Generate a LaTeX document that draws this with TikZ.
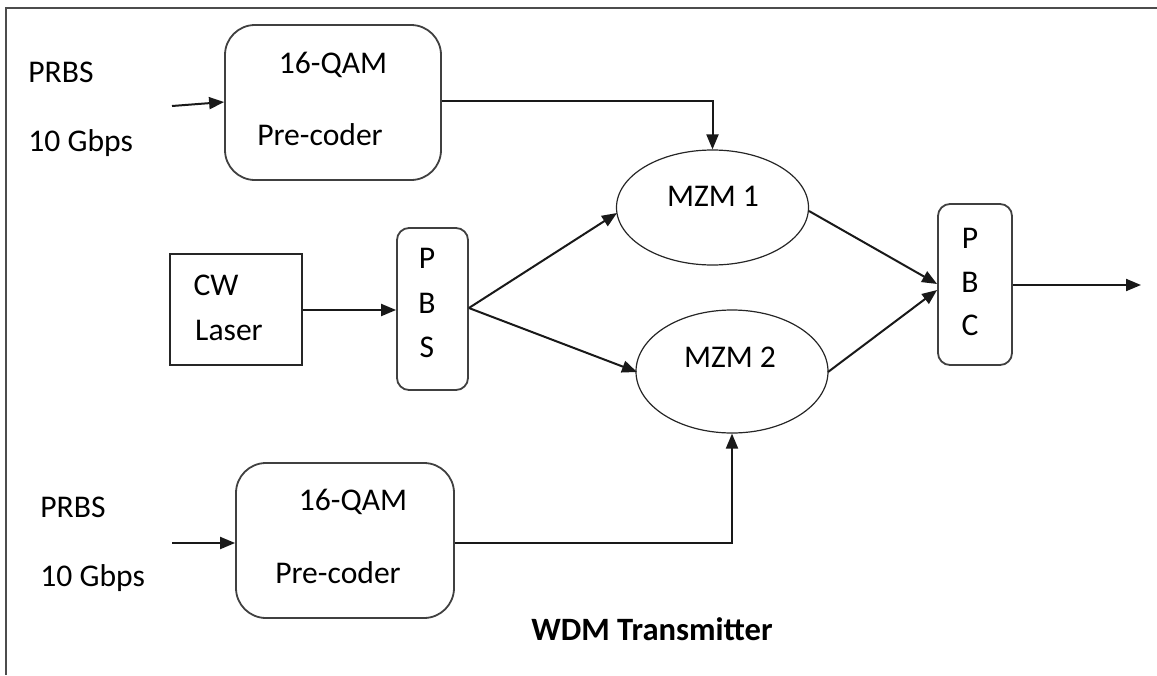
\documentclass[tikz,border=0pt]{standalone}
\usepackage{fontspec}
\setmainfont{Carlito}
\usetikzlibrary{shapes.geometric,arrows.meta}
\begin{document}
\begin{tikzpicture}[x=0.5pt,y=-0.5pt,
  box/.style={draw=black!75,line width=0.9pt,rounded corners=15pt,inner sep=0pt},
  sbox/.style={draw=black!85,line width=0.8pt,inner sep=0pt},
  ell/.style={draw=black!85,line width=0.6pt,ellipse,inner sep=0pt},
  txt/.style={font=\fontsize{15.8}{18}\selectfont,inner sep=0pt},
  arr/.style={draw=black!90,line width=1pt,-{Triangle[length=7.5pt,width=6pt]}}]
\useasboundingbox (0,0) rectangle (1157,675);
% frame
\draw[black!70,line width=1.1pt] (1157,8) -- (6,8) -- (6,675);
% top precoder
\node[box,minimum width=108pt,minimum height=77.5pt] (q1) at (333,102.5) {};
\node[txt] (q1a) at (333,65) {16-QAM};
\node[txt] (q1b) at (320,135) {Pre-coder};
\node[txt,anchor=west] (p1) at (28,72) {PRBS};
\node[txt,anchor=west] (g1) at (28,143) {10 Gbps};
\coordinate (i1) at (172,106);
% bottom precoder
\node[box,minimum width=109pt,minimum height=77.5pt] (q2) at (345,540.5) {};
\node[txt] (q2a) at (353,502) {16-QAM};
\node[txt] (q2b) at (338,573) {Pre-coder};
\node[txt,anchor=west] (p2) at (40,507) {PRBS};
\node[txt,anchor=west] (g2) at (40,578) {10 Gbps};
\coordinate (i2) at (172,543);
% CW laser
\node[sbox,minimum width=66pt,minimum height=55.5pt] (cw) at (236,309.5) {};
\node[txt] (cwa) at (216,285) {CW};
\node[txt] (cwb) at (229,330) {Laser};
% PBS
\node[box,rounded corners=6pt,minimum width=35.5pt,minimum height=81pt] (pbs) at (432.5,309) {};
\node[txt] (pbsp) at (427,258) {P};
\node[txt] (pbsb) at (427,303) {B};
\node[txt] (pbss) at (427,347) {S};
% MZMs
\node[ell,minimum width=96pt,minimum height=57.5pt] (m1) at (712.5,207.5) {};
\node[txt] (m1t) at (713,196) {MZM 1};
\node[ell,minimum width=96pt,minimum height=61.5pt] (m2) at (732,371.5) {};
\node[txt] (m2t) at (730,357) {MZM 2};
% PBC
\node[box,rounded corners=6pt,minimum width=37pt,minimum height=80.5pt] (pbc) at (975,284.5) {};
\node[txt] (pbcp) at (970,238) {P};
\node[txt] (pbcb) at (970,282) {B};
\node[txt] (pbcc) at (970,325) {C};
\coordinate (out) at (1141,285);
% title
\node[font=\fontsize{16.3}{19}\selectfont\bfseries,inner sep=0pt] (title) at (652,629) {WDM Transmitter};
% connectors
\draw[arr] (i1) -- (q1.west |- 0,102);
\draw[arr] (q1.east |- 0,101) -| (m1.north);
\draw[arr] (i2) -- (q2.west |- i2);
\draw[arr] (q2.east |- i2) -| (m2.south);
\draw[arr] (cw.east |- 0,310) -- (pbs.west |- 0,310);
\draw[arr] (pbs.east |- 0,308) coordinate (ps) -- (617,213);
\draw[arr] (ps) -- (637,372);
\draw[arr] (809,211) -- (pbc.west |- 0,284);
\draw[arr] (828,372) -- (pbc.west |- 0,290);
\draw[arr] (pbc.east |- out) -- (out);
\end{tikzpicture}
\end{document}
